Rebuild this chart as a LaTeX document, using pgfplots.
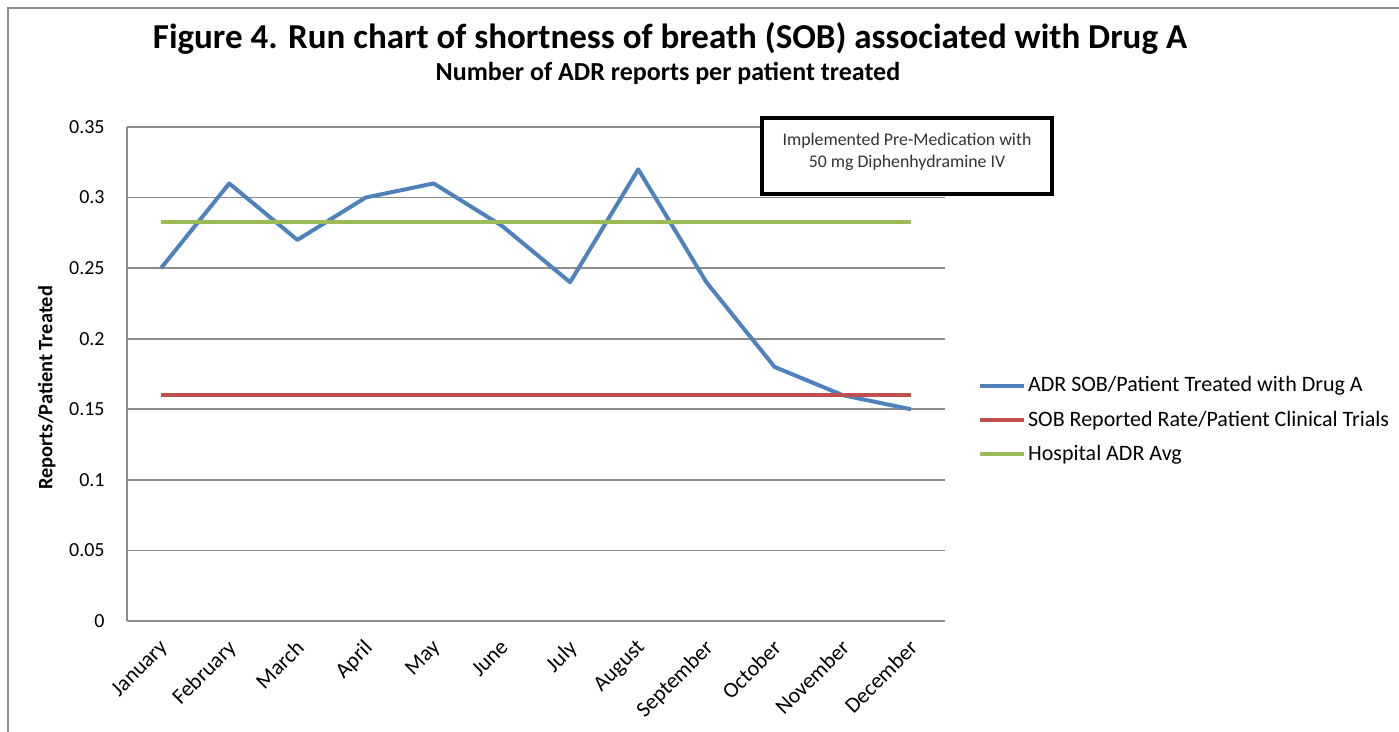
\documentclass[border=0pt]{standalone}
\usepackage{pgfplots}
\pgfplotsset{compat=1.18}
\usepackage{fontspec}
\setmainfont{Carlito}
\definecolor{xblue}{HTML}{4F81BD}
\definecolor{xred}{HTML}{C0504D}
\definecolor{xgreen}{HTML}{9BBB59}
\definecolor{xgrid}{HTML}{8C8C8C}
\begin{document}
\begin{tikzpicture}
\path[use as bounding box] (0pt,0pt) rectangle (699.5pt,366pt);
\draw[xgrid, line width=1.2pt] (4pt,0pt) -- (4pt,362pt) -- (699.5pt,362pt);
\node[font=\bfseries\fontsize{17.5}{20}\selectfont] at (335pt,347pt) {Figure 4. Run chart of shortness of breath (SOB) associated with Drug A};
\node[font=\bfseries\fontsize{13}{15}\selectfont] at (334pt,329.5pt) {Number of ADR reports per patient treated};
\begin{axis}[
  at={(63.5pt,55.5pt)}, anchor=south west,
  width=409pt, height=247pt, scale only axis,
  xmin=-0.5, xmax=11.5, ymin=0, ymax=0.35,
  xtick={0,...,11},
  xticklabels={January,February,March,April,May,June,July,August,September,October,November,December},
  ytick={0,0.05,0.1,0.15,0.2,0.25,0.3,0.35},
  /pgf/number format/fixed, /pgf/number format/precision=2,
  /pgf/number format/assume math mode=true,
  ymajorgrids, grid style={xgrid, line width=0.8pt},
  axis lines*=left, axis line style={xgrid, line width=0.8pt, -},
  major tick length=0pt,
  tick label style={font=\fontsize{10}{12}\selectfont},
  yticklabel style={inner sep=0pt, xshift=-11pt},
  xticklabel style={rotate=45, anchor=north east, inner sep=0pt, yshift=-5pt, xshift=-7pt, font=\fontsize{11}{13}\selectfont},
  ylabel={Reports/Patient Treated},
  ylabel style={at={(axis description cs:-0.098,0.472)}, anchor=center, rotate=0, font=\bfseries\fontsize{10.2}{12}\selectfont},
  legend style={at={(axis description cs:1.040,0.407)}, anchor=west, draw=none, fill=none,
    font=\fontsize{11}{13}\selectfont, row sep=6pt, inner sep=0pt,
    nodes={inner sep=1pt}},
  legend cell align=left,
  legend image code/.code={\draw[#1] (0pt,0pt) -- (22pt,0pt);},
  clip=false,
]
\addplot[xblue, line width=2pt, line join=round] coordinates {
(0,0.25) (1,0.31) (2,0.27) (3,0.30) (4,0.31) (5,0.28) (6,0.24) (7,0.32) (8,0.24) (9,0.18) (10,0.16) (11,0.15)};
\addlegendentry{ADR SOB/Patient Treated with Drug A}
\addplot[xred, line width=2pt] coordinates {
(0,0.16) (1,0.16) (2,0.16) (3,0.16) (4,0.16) (5,0.16) (6,0.16) (7,0.16) (8,0.16) (9,0.16) (10,0.16) (11,0.16)};
\addlegendentry{SOB Reported Rate/Patient Clinical Trials}
\addplot[xgreen, line width=2pt] coordinates {
(0,0.283) (1,0.283) (2,0.283) (3,0.283) (4,0.283) (5,0.283) (6,0.283) (7,0.283) (8,0.283) (9,0.283) (10,0.283) (11,0.283)};
\addlegendentry{Hospital ADR Avg}
\end{axis}
\draw[black, line width=2pt, fill=white] (381pt,269pt) rectangle (526pt,307pt);
\node[font=\fontsize{8.9}{11}\selectfont, align=center, text=black!80] at (453.5pt,290pt) {Implemented Pre-Medication with\\50 mg Diphenhydramine IV};
\end{tikzpicture}
\end{document}
